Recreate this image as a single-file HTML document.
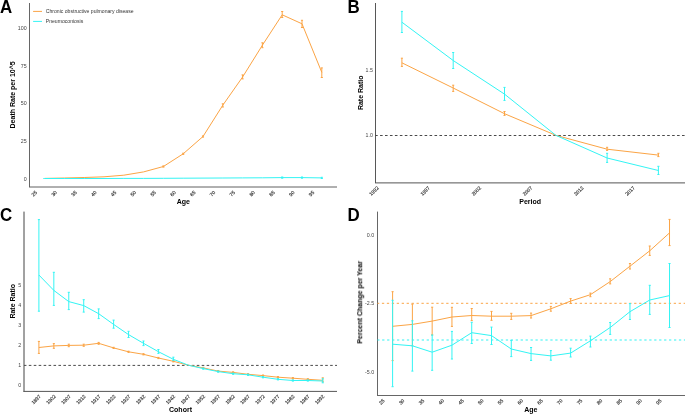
<!DOCTYPE html>
<html><head><meta charset="utf-8"><style>
html,body{margin:0;padding:0;background:#fff;}
svg{display:block;}
text{font-family:"Liberation Sans", sans-serif;}
</style></head><body>
<svg width="685" height="414" viewBox="0 0 685 414">
<defs><filter id="gs" x="0" y="0" width="685" height="414" filterUnits="userSpaceOnUse"><feColorMatrix type="saturate" values="0"/></filter></defs>
<rect width="685" height="414" fill="#fff"/>
<line x1="29.50" y1="3.00" x2="29.50" y2="187.00" stroke="#666666" stroke-width="1" />
<line x1="29.00" y1="187.00" x2="337.00" y2="187.00" stroke="#606060" stroke-width="1" />
<line x1="33.10" y1="11.40" x2="42.00" y2="11.40" stroke="#FBA445" stroke-width="1" />
<line x1="33.10" y1="21.40" x2="42.00" y2="21.40" stroke="#33F4F4" stroke-width="1" />
<polyline points="44.60,178.40 64.40,178.00 84.20,177.50 104.00,176.80 123.80,175.20 143.60,171.90 163.40,166.50 183.20,153.80 203.00,136.50 222.80,105.20 242.60,77.00 262.40,45.20 282.20,14.80 302.00,23.80 321.80,72.40" fill="none" stroke="#FBA445" stroke-width="1.0" stroke-linejoin="round"/>
<line x1="163.40" y1="165.90" x2="163.40" y2="167.10" stroke="#FBA445" stroke-width="1.0" />
<line x1="162.35" y1="165.90" x2="164.45" y2="165.90" stroke="#FBA445" stroke-width="1.0" />
<line x1="162.35" y1="167.10" x2="164.45" y2="167.10" stroke="#FBA445" stroke-width="1.0" />
<line x1="183.20" y1="153.20" x2="183.20" y2="154.40" stroke="#FBA445" stroke-width="1.0" />
<line x1="182.15" y1="153.20" x2="184.25" y2="153.20" stroke="#FBA445" stroke-width="1.0" />
<line x1="182.15" y1="154.40" x2="184.25" y2="154.40" stroke="#FBA445" stroke-width="1.0" />
<line x1="203.00" y1="135.90" x2="203.00" y2="137.10" stroke="#FBA445" stroke-width="1.0" />
<line x1="201.95" y1="135.90" x2="204.05" y2="135.90" stroke="#FBA445" stroke-width="1.0" />
<line x1="201.95" y1="137.10" x2="204.05" y2="137.10" stroke="#FBA445" stroke-width="1.0" />
<line x1="222.80" y1="103.80" x2="222.80" y2="107.00" stroke="#FBA445" stroke-width="1.0" />
<line x1="221.75" y1="103.80" x2="223.85" y2="103.80" stroke="#FBA445" stroke-width="1.0" />
<line x1="221.75" y1="107.00" x2="223.85" y2="107.00" stroke="#FBA445" stroke-width="1.0" />
<line x1="242.60" y1="74.90" x2="242.60" y2="78.90" stroke="#FBA445" stroke-width="1.0" />
<line x1="241.55" y1="74.90" x2="243.65" y2="74.90" stroke="#FBA445" stroke-width="1.0" />
<line x1="241.55" y1="78.90" x2="243.65" y2="78.90" stroke="#FBA445" stroke-width="1.0" />
<line x1="262.40" y1="42.80" x2="262.40" y2="47.70" stroke="#FBA445" stroke-width="1.0" />
<line x1="261.35" y1="42.80" x2="263.45" y2="42.80" stroke="#FBA445" stroke-width="1.0" />
<line x1="261.35" y1="47.70" x2="263.45" y2="47.70" stroke="#FBA445" stroke-width="1.0" />
<line x1="282.20" y1="11.50" x2="282.20" y2="17.50" stroke="#FBA445" stroke-width="1.0" />
<line x1="281.15" y1="11.50" x2="283.25" y2="11.50" stroke="#FBA445" stroke-width="1.0" />
<line x1="281.15" y1="17.50" x2="283.25" y2="17.50" stroke="#FBA445" stroke-width="1.0" />
<line x1="302.00" y1="20.30" x2="302.00" y2="27.50" stroke="#FBA445" stroke-width="1.0" />
<line x1="300.95" y1="20.30" x2="303.05" y2="20.30" stroke="#FBA445" stroke-width="1.0" />
<line x1="300.95" y1="27.50" x2="303.05" y2="27.50" stroke="#FBA445" stroke-width="1.0" />
<line x1="321.80" y1="67.90" x2="321.80" y2="77.50" stroke="#FBA445" stroke-width="1.0" />
<line x1="320.75" y1="67.90" x2="322.85" y2="67.90" stroke="#FBA445" stroke-width="1.0" />
<line x1="320.75" y1="77.50" x2="322.85" y2="77.50" stroke="#FBA445" stroke-width="1.0" />
<polyline points="43.30,178.50 44.60,178.50 64.40,178.50 84.20,178.50 104.00,178.50 123.80,178.40 143.60,178.40 163.40,178.30 183.20,178.20 203.00,178.10 222.80,178.00 242.60,177.90 262.40,177.80 282.20,177.60 302.00,177.60 321.80,177.90" fill="none" stroke="#33F4F4" stroke-width="1.0" stroke-linejoin="round"/>
<line x1="282.20" y1="177.00" x2="282.20" y2="178.20" stroke="#33F4F4" stroke-width="1.0" />
<line x1="281.15" y1="177.00" x2="283.25" y2="177.00" stroke="#33F4F4" stroke-width="1.0" />
<line x1="281.15" y1="178.20" x2="283.25" y2="178.20" stroke="#33F4F4" stroke-width="1.0" />
<line x1="302.00" y1="177.00" x2="302.00" y2="178.20" stroke="#33F4F4" stroke-width="1.0" />
<line x1="300.95" y1="177.00" x2="303.05" y2="177.00" stroke="#33F4F4" stroke-width="1.0" />
<line x1="300.95" y1="178.20" x2="303.05" y2="178.20" stroke="#33F4F4" stroke-width="1.0" />
<line x1="321.80" y1="177.30" x2="321.80" y2="178.50" stroke="#33F4F4" stroke-width="1.0" />
<line x1="320.75" y1="177.30" x2="322.85" y2="177.30" stroke="#33F4F4" stroke-width="1.0" />
<line x1="320.75" y1="178.50" x2="322.85" y2="178.50" stroke="#33F4F4" stroke-width="1.0" />
<line x1="375.50" y1="3.00" x2="375.50" y2="183.00" stroke="#575757" stroke-width="1" />
<line x1="375.00" y1="182.90" x2="685.00" y2="182.90" stroke="#555555" stroke-width="1" />
<line x1="375.10" y1="135.50" x2="685.00" y2="135.50" stroke="#4a4a4a" stroke-width="1" stroke-dasharray="2.6 2.35"/>
<polyline points="401.90,62.80 453.20,88.00 504.50,113.70 555.80,135.30 607.10,149.20 658.40,155.10" fill="none" stroke="#FBA445" stroke-width="1.0" stroke-linejoin="round"/>
<line x1="401.90" y1="58.20" x2="401.90" y2="66.40" stroke="#FBA445" stroke-width="1.0" />
<line x1="400.85" y1="58.20" x2="402.95" y2="58.20" stroke="#FBA445" stroke-width="1.0" />
<line x1="400.85" y1="66.40" x2="402.95" y2="66.40" stroke="#FBA445" stroke-width="1.0" />
<line x1="453.20" y1="85.20" x2="453.20" y2="91.40" stroke="#FBA445" stroke-width="1.0" />
<line x1="452.15" y1="85.20" x2="454.25" y2="85.20" stroke="#FBA445" stroke-width="1.0" />
<line x1="452.15" y1="91.40" x2="454.25" y2="91.40" stroke="#FBA445" stroke-width="1.0" />
<line x1="504.50" y1="111.50" x2="504.50" y2="115.40" stroke="#FBA445" stroke-width="1.0" />
<line x1="503.45" y1="111.50" x2="505.55" y2="111.50" stroke="#FBA445" stroke-width="1.0" />
<line x1="503.45" y1="115.40" x2="505.55" y2="115.40" stroke="#FBA445" stroke-width="1.0" />
<line x1="607.10" y1="147.30" x2="607.10" y2="150.40" stroke="#FBA445" stroke-width="1.0" />
<line x1="606.05" y1="147.30" x2="608.15" y2="147.30" stroke="#FBA445" stroke-width="1.0" />
<line x1="606.05" y1="150.40" x2="608.15" y2="150.40" stroke="#FBA445" stroke-width="1.0" />
<line x1="658.40" y1="153.30" x2="658.40" y2="156.60" stroke="#FBA445" stroke-width="1.0" />
<line x1="657.35" y1="153.30" x2="659.45" y2="153.30" stroke="#FBA445" stroke-width="1.0" />
<line x1="657.35" y1="156.60" x2="659.45" y2="156.60" stroke="#FBA445" stroke-width="1.0" />
<polyline points="401.90,22.20 453.20,60.50 504.50,94.10 555.80,135.30 607.10,158.00 658.40,170.50" fill="none" stroke="#33F4F4" stroke-width="1.0" stroke-linejoin="round"/>
<line x1="401.90" y1="11.40" x2="401.90" y2="32.50" stroke="#33F4F4" stroke-width="1.0" />
<line x1="400.85" y1="11.40" x2="402.95" y2="11.40" stroke="#33F4F4" stroke-width="1.0" />
<line x1="400.85" y1="32.50" x2="402.95" y2="32.50" stroke="#33F4F4" stroke-width="1.0" />
<line x1="453.20" y1="52.50" x2="453.20" y2="68.50" stroke="#33F4F4" stroke-width="1.0" />
<line x1="452.15" y1="52.50" x2="454.25" y2="52.50" stroke="#33F4F4" stroke-width="1.0" />
<line x1="452.15" y1="68.50" x2="454.25" y2="68.50" stroke="#33F4F4" stroke-width="1.0" />
<line x1="504.50" y1="87.40" x2="504.50" y2="100.40" stroke="#33F4F4" stroke-width="1.0" />
<line x1="503.45" y1="87.40" x2="505.55" y2="87.40" stroke="#33F4F4" stroke-width="1.0" />
<line x1="503.45" y1="100.40" x2="505.55" y2="100.40" stroke="#33F4F4" stroke-width="1.0" />
<line x1="607.10" y1="153.30" x2="607.10" y2="162.40" stroke="#33F4F4" stroke-width="1.0" />
<line x1="606.05" y1="153.30" x2="608.15" y2="153.30" stroke="#33F4F4" stroke-width="1.0" />
<line x1="606.05" y1="162.40" x2="608.15" y2="162.40" stroke="#33F4F4" stroke-width="1.0" />
<line x1="658.40" y1="166.30" x2="658.40" y2="174.50" stroke="#33F4F4" stroke-width="1.0" />
<line x1="657.35" y1="166.30" x2="659.45" y2="166.30" stroke="#33F4F4" stroke-width="1.0" />
<line x1="657.35" y1="174.50" x2="659.45" y2="174.50" stroke="#33F4F4" stroke-width="1.0" />
<line x1="24.00" y1="211.60" x2="24.00" y2="391.90" stroke="#444" stroke-width="1" />
<line x1="23.50" y1="391.40" x2="337.00" y2="391.40" stroke="#555" stroke-width="1" />
<line x1="24.00" y1="365.40" x2="337.00" y2="365.40" stroke="#4a4a4a" stroke-width="1" stroke-dasharray="2.6 2.34" stroke-dashoffset="0.15"/>
<polyline points="38.90,347.50 53.84,345.90 68.78,345.40 83.72,345.20 98.66,343.30 113.60,347.90 128.54,351.80 143.48,354.30 158.42,358.00 173.36,361.30 188.30,365.20 203.24,367.90 218.18,371.10 233.12,372.40 248.06,374.30 263.00,375.60 277.94,377.20 292.88,378.20 307.82,379.30 322.76,380.30" fill="none" stroke="#FBA445" stroke-width="1.0" stroke-linejoin="round"/>
<line x1="38.90" y1="341.40" x2="38.90" y2="353.40" stroke="#FBA445" stroke-width="1.0" />
<line x1="37.85" y1="341.40" x2="39.95" y2="341.40" stroke="#FBA445" stroke-width="1.0" />
<line x1="37.85" y1="353.40" x2="39.95" y2="353.40" stroke="#FBA445" stroke-width="1.0" />
<line x1="53.84" y1="343.60" x2="53.84" y2="348.30" stroke="#FBA445" stroke-width="1.0" />
<line x1="52.79" y1="343.60" x2="54.89" y2="343.60" stroke="#FBA445" stroke-width="1.0" />
<line x1="52.79" y1="348.30" x2="54.89" y2="348.30" stroke="#FBA445" stroke-width="1.0" />
<line x1="68.78" y1="344.20" x2="68.78" y2="346.70" stroke="#FBA445" stroke-width="1.0" />
<line x1="67.73" y1="344.20" x2="69.83" y2="344.20" stroke="#FBA445" stroke-width="1.0" />
<line x1="67.73" y1="346.70" x2="69.83" y2="346.70" stroke="#FBA445" stroke-width="1.0" />
<line x1="83.72" y1="344.20" x2="83.72" y2="346.30" stroke="#FBA445" stroke-width="1.0" />
<line x1="82.67" y1="344.20" x2="84.77" y2="344.20" stroke="#FBA445" stroke-width="1.0" />
<line x1="82.67" y1="346.30" x2="84.77" y2="346.30" stroke="#FBA445" stroke-width="1.0" />
<line x1="98.66" y1="342.40" x2="98.66" y2="344.30" stroke="#FBA445" stroke-width="1.0" />
<line x1="97.61" y1="342.40" x2="99.71" y2="342.40" stroke="#FBA445" stroke-width="1.0" />
<line x1="97.61" y1="344.30" x2="99.71" y2="344.30" stroke="#FBA445" stroke-width="1.0" />
<line x1="113.60" y1="347.30" x2="113.60" y2="348.50" stroke="#FBA445" stroke-width="1.0" />
<line x1="112.55" y1="347.30" x2="114.65" y2="347.30" stroke="#FBA445" stroke-width="1.0" />
<line x1="112.55" y1="348.50" x2="114.65" y2="348.50" stroke="#FBA445" stroke-width="1.0" />
<line x1="128.54" y1="351.20" x2="128.54" y2="352.40" stroke="#FBA445" stroke-width="1.0" />
<line x1="127.49" y1="351.20" x2="129.59" y2="351.20" stroke="#FBA445" stroke-width="1.0" />
<line x1="127.49" y1="352.40" x2="129.59" y2="352.40" stroke="#FBA445" stroke-width="1.0" />
<line x1="143.48" y1="353.70" x2="143.48" y2="354.90" stroke="#FBA445" stroke-width="1.0" />
<line x1="142.43" y1="353.70" x2="144.53" y2="353.70" stroke="#FBA445" stroke-width="1.0" />
<line x1="142.43" y1="354.90" x2="144.53" y2="354.90" stroke="#FBA445" stroke-width="1.0" />
<line x1="158.42" y1="357.40" x2="158.42" y2="358.60" stroke="#FBA445" stroke-width="1.0" />
<line x1="157.37" y1="357.40" x2="159.47" y2="357.40" stroke="#FBA445" stroke-width="1.0" />
<line x1="157.37" y1="358.60" x2="159.47" y2="358.60" stroke="#FBA445" stroke-width="1.0" />
<line x1="173.36" y1="360.70" x2="173.36" y2="361.90" stroke="#FBA445" stroke-width="1.0" />
<line x1="172.31" y1="360.70" x2="174.41" y2="360.70" stroke="#FBA445" stroke-width="1.0" />
<line x1="172.31" y1="361.90" x2="174.41" y2="361.90" stroke="#FBA445" stroke-width="1.0" />
<line x1="203.24" y1="367.30" x2="203.24" y2="368.50" stroke="#FBA445" stroke-width="1.0" />
<line x1="202.19" y1="367.30" x2="204.29" y2="367.30" stroke="#FBA445" stroke-width="1.0" />
<line x1="202.19" y1="368.50" x2="204.29" y2="368.50" stroke="#FBA445" stroke-width="1.0" />
<line x1="218.18" y1="370.50" x2="218.18" y2="371.70" stroke="#FBA445" stroke-width="1.0" />
<line x1="217.13" y1="370.50" x2="219.23" y2="370.50" stroke="#FBA445" stroke-width="1.0" />
<line x1="217.13" y1="371.70" x2="219.23" y2="371.70" stroke="#FBA445" stroke-width="1.0" />
<line x1="233.12" y1="371.80" x2="233.12" y2="373.00" stroke="#FBA445" stroke-width="1.0" />
<line x1="232.07" y1="371.80" x2="234.17" y2="371.80" stroke="#FBA445" stroke-width="1.0" />
<line x1="232.07" y1="373.00" x2="234.17" y2="373.00" stroke="#FBA445" stroke-width="1.0" />
<line x1="248.06" y1="373.70" x2="248.06" y2="374.90" stroke="#FBA445" stroke-width="1.0" />
<line x1="247.01" y1="373.70" x2="249.11" y2="373.70" stroke="#FBA445" stroke-width="1.0" />
<line x1="247.01" y1="374.90" x2="249.11" y2="374.90" stroke="#FBA445" stroke-width="1.0" />
<line x1="263.00" y1="375.00" x2="263.00" y2="376.20" stroke="#FBA445" stroke-width="1.0" />
<line x1="261.95" y1="375.00" x2="264.05" y2="375.00" stroke="#FBA445" stroke-width="1.0" />
<line x1="261.95" y1="376.20" x2="264.05" y2="376.20" stroke="#FBA445" stroke-width="1.0" />
<line x1="277.94" y1="376.60" x2="277.94" y2="377.80" stroke="#FBA445" stroke-width="1.0" />
<line x1="276.89" y1="376.60" x2="278.99" y2="376.60" stroke="#FBA445" stroke-width="1.0" />
<line x1="276.89" y1="377.80" x2="278.99" y2="377.80" stroke="#FBA445" stroke-width="1.0" />
<line x1="292.88" y1="377.60" x2="292.88" y2="378.80" stroke="#FBA445" stroke-width="1.0" />
<line x1="291.83" y1="377.60" x2="293.93" y2="377.60" stroke="#FBA445" stroke-width="1.0" />
<line x1="291.83" y1="378.80" x2="293.93" y2="378.80" stroke="#FBA445" stroke-width="1.0" />
<line x1="307.82" y1="378.70" x2="307.82" y2="379.90" stroke="#FBA445" stroke-width="1.0" />
<line x1="306.77" y1="378.70" x2="308.87" y2="378.70" stroke="#FBA445" stroke-width="1.0" />
<line x1="306.77" y1="379.90" x2="308.87" y2="379.90" stroke="#FBA445" stroke-width="1.0" />
<line x1="322.76" y1="377.80" x2="322.76" y2="381.80" stroke="#FBA445" stroke-width="1.0" />
<line x1="321.71" y1="377.80" x2="323.81" y2="377.80" stroke="#FBA445" stroke-width="1.0" />
<line x1="321.71" y1="381.80" x2="323.81" y2="381.80" stroke="#FBA445" stroke-width="1.0" />
<polyline points="38.90,275.00 53.84,290.40 68.78,301.60 83.72,305.60 98.66,313.70 113.60,324.40 128.54,334.60 143.48,343.30 158.42,351.70 173.36,359.30 188.30,365.20 203.24,368.60 218.18,371.60 233.12,373.70 248.06,374.80 263.00,377.20 277.94,379.30 292.88,380.50 307.82,380.50 322.76,381.00" fill="none" stroke="#33F4F4" stroke-width="1.0" stroke-linejoin="round"/>
<line x1="38.90" y1="219.60" x2="38.90" y2="311.20" stroke="#33F4F4" stroke-width="1.0" />
<line x1="37.85" y1="219.60" x2="39.95" y2="219.60" stroke="#33F4F4" stroke-width="1.0" />
<line x1="37.85" y1="311.20" x2="39.95" y2="311.20" stroke="#33F4F4" stroke-width="1.0" />
<line x1="53.84" y1="272.30" x2="53.84" y2="305.40" stroke="#33F4F4" stroke-width="1.0" />
<line x1="52.79" y1="272.30" x2="54.89" y2="272.30" stroke="#33F4F4" stroke-width="1.0" />
<line x1="52.79" y1="305.40" x2="54.89" y2="305.40" stroke="#33F4F4" stroke-width="1.0" />
<line x1="68.78" y1="292.30" x2="68.78" y2="309.60" stroke="#33F4F4" stroke-width="1.0" />
<line x1="67.73" y1="292.30" x2="69.83" y2="292.30" stroke="#33F4F4" stroke-width="1.0" />
<line x1="67.73" y1="309.60" x2="69.83" y2="309.60" stroke="#33F4F4" stroke-width="1.0" />
<line x1="83.72" y1="299.70" x2="83.72" y2="312.10" stroke="#33F4F4" stroke-width="1.0" />
<line x1="82.67" y1="299.70" x2="84.77" y2="299.70" stroke="#33F4F4" stroke-width="1.0" />
<line x1="82.67" y1="312.10" x2="84.77" y2="312.10" stroke="#33F4F4" stroke-width="1.0" />
<line x1="98.66" y1="308.90" x2="98.66" y2="318.60" stroke="#33F4F4" stroke-width="1.0" />
<line x1="97.61" y1="308.90" x2="99.71" y2="308.90" stroke="#33F4F4" stroke-width="1.0" />
<line x1="97.61" y1="318.60" x2="99.71" y2="318.60" stroke="#33F4F4" stroke-width="1.0" />
<line x1="113.60" y1="320.10" x2="113.60" y2="328.20" stroke="#33F4F4" stroke-width="1.0" />
<line x1="112.55" y1="320.10" x2="114.65" y2="320.10" stroke="#33F4F4" stroke-width="1.0" />
<line x1="112.55" y1="328.20" x2="114.65" y2="328.20" stroke="#33F4F4" stroke-width="1.0" />
<line x1="128.54" y1="331.30" x2="128.54" y2="337.50" stroke="#33F4F4" stroke-width="1.0" />
<line x1="127.49" y1="331.30" x2="129.59" y2="331.30" stroke="#33F4F4" stroke-width="1.0" />
<line x1="127.49" y1="337.50" x2="129.59" y2="337.50" stroke="#33F4F4" stroke-width="1.0" />
<line x1="143.48" y1="341.00" x2="143.48" y2="345.60" stroke="#33F4F4" stroke-width="1.0" />
<line x1="142.43" y1="341.00" x2="144.53" y2="341.00" stroke="#33F4F4" stroke-width="1.0" />
<line x1="142.43" y1="345.60" x2="144.53" y2="345.60" stroke="#33F4F4" stroke-width="1.0" />
<line x1="158.42" y1="349.50" x2="158.42" y2="353.40" stroke="#33F4F4" stroke-width="1.0" />
<line x1="157.37" y1="349.50" x2="159.47" y2="349.50" stroke="#33F4F4" stroke-width="1.0" />
<line x1="157.37" y1="353.40" x2="159.47" y2="353.40" stroke="#33F4F4" stroke-width="1.0" />
<line x1="173.36" y1="357.20" x2="173.36" y2="360.30" stroke="#33F4F4" stroke-width="1.0" />
<line x1="172.31" y1="357.20" x2="174.41" y2="357.20" stroke="#33F4F4" stroke-width="1.0" />
<line x1="172.31" y1="360.30" x2="174.41" y2="360.30" stroke="#33F4F4" stroke-width="1.0" />
<line x1="203.24" y1="368.00" x2="203.24" y2="369.20" stroke="#33F4F4" stroke-width="1.0" />
<line x1="202.19" y1="368.00" x2="204.29" y2="368.00" stroke="#33F4F4" stroke-width="1.0" />
<line x1="202.19" y1="369.20" x2="204.29" y2="369.20" stroke="#33F4F4" stroke-width="1.0" />
<line x1="218.18" y1="371.00" x2="218.18" y2="372.20" stroke="#33F4F4" stroke-width="1.0" />
<line x1="217.13" y1="371.00" x2="219.23" y2="371.00" stroke="#33F4F4" stroke-width="1.0" />
<line x1="217.13" y1="372.20" x2="219.23" y2="372.20" stroke="#33F4F4" stroke-width="1.0" />
<line x1="233.12" y1="373.10" x2="233.12" y2="374.30" stroke="#33F4F4" stroke-width="1.0" />
<line x1="232.07" y1="373.10" x2="234.17" y2="373.10" stroke="#33F4F4" stroke-width="1.0" />
<line x1="232.07" y1="374.30" x2="234.17" y2="374.30" stroke="#33F4F4" stroke-width="1.0" />
<line x1="248.06" y1="374.20" x2="248.06" y2="375.40" stroke="#33F4F4" stroke-width="1.0" />
<line x1="247.01" y1="374.20" x2="249.11" y2="374.20" stroke="#33F4F4" stroke-width="1.0" />
<line x1="247.01" y1="375.40" x2="249.11" y2="375.40" stroke="#33F4F4" stroke-width="1.0" />
<line x1="263.00" y1="376.60" x2="263.00" y2="377.80" stroke="#33F4F4" stroke-width="1.0" />
<line x1="261.95" y1="376.60" x2="264.05" y2="376.60" stroke="#33F4F4" stroke-width="1.0" />
<line x1="261.95" y1="377.80" x2="264.05" y2="377.80" stroke="#33F4F4" stroke-width="1.0" />
<line x1="277.94" y1="378.70" x2="277.94" y2="379.90" stroke="#33F4F4" stroke-width="1.0" />
<line x1="276.89" y1="378.70" x2="278.99" y2="378.70" stroke="#33F4F4" stroke-width="1.0" />
<line x1="276.89" y1="379.90" x2="278.99" y2="379.90" stroke="#33F4F4" stroke-width="1.0" />
<line x1="292.88" y1="379.90" x2="292.88" y2="381.10" stroke="#33F4F4" stroke-width="1.0" />
<line x1="291.83" y1="379.90" x2="293.93" y2="379.90" stroke="#33F4F4" stroke-width="1.0" />
<line x1="291.83" y1="381.10" x2="293.93" y2="381.10" stroke="#33F4F4" stroke-width="1.0" />
<line x1="307.82" y1="379.90" x2="307.82" y2="381.10" stroke="#33F4F4" stroke-width="1.0" />
<line x1="306.77" y1="379.90" x2="308.87" y2="379.90" stroke="#33F4F4" stroke-width="1.0" />
<line x1="306.77" y1="381.10" x2="308.87" y2="381.10" stroke="#33F4F4" stroke-width="1.0" />
<line x1="322.76" y1="378.80" x2="322.76" y2="382.80" stroke="#33F4F4" stroke-width="1.0" />
<line x1="321.71" y1="378.80" x2="323.81" y2="378.80" stroke="#33F4F4" stroke-width="1.0" />
<line x1="321.71" y1="382.80" x2="323.81" y2="382.80" stroke="#33F4F4" stroke-width="1.0" />
<line x1="377.50" y1="211.60" x2="377.50" y2="396.00" stroke="#666666" stroke-width="1" />
<line x1="377.00" y1="395.50" x2="685.00" y2="395.50" stroke="#666666" stroke-width="1" />
<line x1="377.50" y1="303.30" x2="685.00" y2="303.30" stroke="#FBA445" stroke-width="1" stroke-dasharray="2.3 2.646" stroke-dashoffset="0.54"/>
<line x1="377.50" y1="340.00" x2="685.00" y2="340.00" stroke="#33F4F4" stroke-width="1.1" stroke-dasharray="2.3 2.646" stroke-dashoffset="0.3"/>
<polyline points="392.60,326.30 412.38,324.40 432.16,321.10 451.94,317.00 471.72,315.50 491.50,316.20 511.28,316.20 531.06,315.60 550.84,308.80 570.62,301.10 590.40,294.70 610.18,281.60 629.96,266.20 649.74,250.80 669.52,232.90" fill="none" stroke="#FBA445" stroke-width="1.0" stroke-linejoin="round"/>
<line x1="392.60" y1="291.70" x2="392.60" y2="360.60" stroke="#FBA445" stroke-width="1.0" />
<line x1="391.55" y1="291.70" x2="393.65" y2="291.70" stroke="#FBA445" stroke-width="1.0" />
<line x1="391.55" y1="360.60" x2="393.65" y2="360.60" stroke="#FBA445" stroke-width="1.0" />
<line x1="412.38" y1="304.20" x2="412.38" y2="345.80" stroke="#FBA445" stroke-width="1.0" />
<line x1="411.33" y1="304.20" x2="413.43" y2="304.20" stroke="#FBA445" stroke-width="1.0" />
<line x1="411.33" y1="345.80" x2="413.43" y2="345.80" stroke="#FBA445" stroke-width="1.0" />
<line x1="432.16" y1="307.20" x2="432.16" y2="335.00" stroke="#FBA445" stroke-width="1.0" />
<line x1="431.11" y1="307.20" x2="433.21" y2="307.20" stroke="#FBA445" stroke-width="1.0" />
<line x1="431.11" y1="335.00" x2="433.21" y2="335.00" stroke="#FBA445" stroke-width="1.0" />
<line x1="451.94" y1="307.30" x2="451.94" y2="326.40" stroke="#FBA445" stroke-width="1.0" />
<line x1="450.89" y1="307.30" x2="452.99" y2="307.30" stroke="#FBA445" stroke-width="1.0" />
<line x1="450.89" y1="326.40" x2="452.99" y2="326.40" stroke="#FBA445" stroke-width="1.0" />
<line x1="471.72" y1="308.50" x2="471.72" y2="320.60" stroke="#FBA445" stroke-width="1.0" />
<line x1="470.67" y1="308.50" x2="472.77" y2="308.50" stroke="#FBA445" stroke-width="1.0" />
<line x1="470.67" y1="320.60" x2="472.77" y2="320.60" stroke="#FBA445" stroke-width="1.0" />
<line x1="491.50" y1="311.40" x2="491.50" y2="320.30" stroke="#FBA445" stroke-width="1.0" />
<line x1="490.45" y1="311.40" x2="492.55" y2="311.40" stroke="#FBA445" stroke-width="1.0" />
<line x1="490.45" y1="320.30" x2="492.55" y2="320.30" stroke="#FBA445" stroke-width="1.0" />
<line x1="511.28" y1="313.30" x2="511.28" y2="319.40" stroke="#FBA445" stroke-width="1.0" />
<line x1="510.23" y1="313.30" x2="512.33" y2="313.30" stroke="#FBA445" stroke-width="1.0" />
<line x1="510.23" y1="319.40" x2="512.33" y2="319.40" stroke="#FBA445" stroke-width="1.0" />
<line x1="531.06" y1="313.10" x2="531.06" y2="318.00" stroke="#FBA445" stroke-width="1.0" />
<line x1="530.01" y1="313.10" x2="532.11" y2="313.10" stroke="#FBA445" stroke-width="1.0" />
<line x1="530.01" y1="318.00" x2="532.11" y2="318.00" stroke="#FBA445" stroke-width="1.0" />
<line x1="550.84" y1="306.40" x2="550.84" y2="311.20" stroke="#FBA445" stroke-width="1.0" />
<line x1="549.79" y1="306.40" x2="551.89" y2="306.40" stroke="#FBA445" stroke-width="1.0" />
<line x1="549.79" y1="311.20" x2="551.89" y2="311.20" stroke="#FBA445" stroke-width="1.0" />
<line x1="570.62" y1="298.60" x2="570.62" y2="303.50" stroke="#FBA445" stroke-width="1.0" />
<line x1="569.57" y1="298.60" x2="571.67" y2="298.60" stroke="#FBA445" stroke-width="1.0" />
<line x1="569.57" y1="303.50" x2="571.67" y2="303.50" stroke="#FBA445" stroke-width="1.0" />
<line x1="590.40" y1="293.10" x2="590.40" y2="296.70" stroke="#FBA445" stroke-width="1.0" />
<line x1="589.35" y1="293.10" x2="591.45" y2="293.10" stroke="#FBA445" stroke-width="1.0" />
<line x1="589.35" y1="296.70" x2="591.45" y2="296.70" stroke="#FBA445" stroke-width="1.0" />
<line x1="610.18" y1="278.80" x2="610.18" y2="283.90" stroke="#FBA445" stroke-width="1.0" />
<line x1="609.13" y1="278.80" x2="611.23" y2="278.80" stroke="#FBA445" stroke-width="1.0" />
<line x1="609.13" y1="283.90" x2="611.23" y2="283.90" stroke="#FBA445" stroke-width="1.0" />
<line x1="629.96" y1="263.50" x2="629.96" y2="269.00" stroke="#FBA445" stroke-width="1.0" />
<line x1="628.91" y1="263.50" x2="631.01" y2="263.50" stroke="#FBA445" stroke-width="1.0" />
<line x1="628.91" y1="269.00" x2="631.01" y2="269.00" stroke="#FBA445" stroke-width="1.0" />
<line x1="649.74" y1="246.00" x2="649.74" y2="255.40" stroke="#FBA445" stroke-width="1.0" />
<line x1="648.69" y1="246.00" x2="650.79" y2="246.00" stroke="#FBA445" stroke-width="1.0" />
<line x1="648.69" y1="255.40" x2="650.79" y2="255.40" stroke="#FBA445" stroke-width="1.0" />
<line x1="669.52" y1="219.40" x2="669.52" y2="245.60" stroke="#FBA445" stroke-width="1.0" />
<line x1="668.47" y1="219.40" x2="670.57" y2="219.40" stroke="#FBA445" stroke-width="1.0" />
<line x1="668.47" y1="245.60" x2="670.57" y2="245.60" stroke="#FBA445" stroke-width="1.0" />
<polyline points="392.60,344.20 412.38,345.80 432.16,352.20 451.94,345.20 471.72,332.70 491.50,335.60 511.28,349.00 531.06,353.60 550.84,355.90 570.62,353.10 590.40,340.80 610.18,327.50 629.96,311.70 649.74,300.00 669.52,295.60" fill="none" stroke="#33F4F4" stroke-width="1.0" stroke-linejoin="round"/>
<line x1="392.60" y1="300.30" x2="392.60" y2="386.70" stroke="#33F4F4" stroke-width="1.0" />
<line x1="391.55" y1="300.30" x2="393.65" y2="300.30" stroke="#33F4F4" stroke-width="1.0" />
<line x1="391.55" y1="386.70" x2="393.65" y2="386.70" stroke="#33F4F4" stroke-width="1.0" />
<line x1="412.38" y1="320.80" x2="412.38" y2="371.10" stroke="#33F4F4" stroke-width="1.0" />
<line x1="411.33" y1="320.80" x2="413.43" y2="320.80" stroke="#33F4F4" stroke-width="1.0" />
<line x1="411.33" y1="371.10" x2="413.43" y2="371.10" stroke="#33F4F4" stroke-width="1.0" />
<line x1="432.16" y1="335.00" x2="432.16" y2="370.30" stroke="#33F4F4" stroke-width="1.0" />
<line x1="431.11" y1="335.00" x2="433.21" y2="335.00" stroke="#33F4F4" stroke-width="1.0" />
<line x1="431.11" y1="370.30" x2="433.21" y2="370.30" stroke="#33F4F4" stroke-width="1.0" />
<line x1="451.94" y1="331.40" x2="451.94" y2="359.00" stroke="#33F4F4" stroke-width="1.0" />
<line x1="450.89" y1="331.40" x2="452.99" y2="331.40" stroke="#33F4F4" stroke-width="1.0" />
<line x1="450.89" y1="359.00" x2="452.99" y2="359.00" stroke="#33F4F4" stroke-width="1.0" />
<line x1="471.72" y1="322.30" x2="471.72" y2="343.50" stroke="#33F4F4" stroke-width="1.0" />
<line x1="470.67" y1="322.30" x2="472.77" y2="322.30" stroke="#33F4F4" stroke-width="1.0" />
<line x1="470.67" y1="343.50" x2="472.77" y2="343.50" stroke="#33F4F4" stroke-width="1.0" />
<line x1="491.50" y1="327.10" x2="491.50" y2="344.50" stroke="#33F4F4" stroke-width="1.0" />
<line x1="490.45" y1="327.10" x2="492.55" y2="327.10" stroke="#33F4F4" stroke-width="1.0" />
<line x1="490.45" y1="344.50" x2="492.55" y2="344.50" stroke="#33F4F4" stroke-width="1.0" />
<line x1="511.28" y1="340.40" x2="511.28" y2="356.60" stroke="#33F4F4" stroke-width="1.0" />
<line x1="510.23" y1="340.40" x2="512.33" y2="340.40" stroke="#33F4F4" stroke-width="1.0" />
<line x1="510.23" y1="356.60" x2="512.33" y2="356.60" stroke="#33F4F4" stroke-width="1.0" />
<line x1="531.06" y1="347.50" x2="531.06" y2="360.40" stroke="#33F4F4" stroke-width="1.0" />
<line x1="530.01" y1="347.50" x2="532.11" y2="347.50" stroke="#33F4F4" stroke-width="1.0" />
<line x1="530.01" y1="360.40" x2="532.11" y2="360.40" stroke="#33F4F4" stroke-width="1.0" />
<line x1="550.84" y1="350.60" x2="550.84" y2="360.20" stroke="#33F4F4" stroke-width="1.0" />
<line x1="549.79" y1="350.60" x2="551.89" y2="350.60" stroke="#33F4F4" stroke-width="1.0" />
<line x1="549.79" y1="360.20" x2="551.89" y2="360.20" stroke="#33F4F4" stroke-width="1.0" />
<line x1="570.62" y1="348.20" x2="570.62" y2="357.00" stroke="#33F4F4" stroke-width="1.0" />
<line x1="569.57" y1="348.20" x2="571.67" y2="348.20" stroke="#33F4F4" stroke-width="1.0" />
<line x1="569.57" y1="357.00" x2="571.67" y2="357.00" stroke="#33F4F4" stroke-width="1.0" />
<line x1="590.40" y1="336.10" x2="590.40" y2="347.00" stroke="#33F4F4" stroke-width="1.0" />
<line x1="589.35" y1="336.10" x2="591.45" y2="336.10" stroke="#33F4F4" stroke-width="1.0" />
<line x1="589.35" y1="347.00" x2="591.45" y2="347.00" stroke="#33F4F4" stroke-width="1.0" />
<line x1="610.18" y1="322.50" x2="610.18" y2="334.40" stroke="#33F4F4" stroke-width="1.0" />
<line x1="609.13" y1="322.50" x2="611.23" y2="322.50" stroke="#33F4F4" stroke-width="1.0" />
<line x1="609.13" y1="334.40" x2="611.23" y2="334.40" stroke="#33F4F4" stroke-width="1.0" />
<line x1="629.96" y1="303.60" x2="629.96" y2="319.50" stroke="#33F4F4" stroke-width="1.0" />
<line x1="628.91" y1="303.60" x2="631.01" y2="303.60" stroke="#33F4F4" stroke-width="1.0" />
<line x1="628.91" y1="319.50" x2="631.01" y2="319.50" stroke="#33F4F4" stroke-width="1.0" />
<line x1="649.74" y1="285.30" x2="649.74" y2="314.40" stroke="#33F4F4" stroke-width="1.0" />
<line x1="648.69" y1="285.30" x2="650.79" y2="285.30" stroke="#33F4F4" stroke-width="1.0" />
<line x1="648.69" y1="314.40" x2="650.79" y2="314.40" stroke="#33F4F4" stroke-width="1.0" />
<line x1="669.52" y1="263.50" x2="669.52" y2="327.50" stroke="#33F4F4" stroke-width="1.0" />
<line x1="668.47" y1="263.50" x2="670.57" y2="263.50" stroke="#33F4F4" stroke-width="1.0" />
<line x1="668.47" y1="327.50" x2="670.57" y2="327.50" stroke="#33F4F4" stroke-width="1.0" />
<g filter="url(#gs)">
<text transform="translate(0.00 12.50) scale(0.96 1)" x="0" y="0" font-size="17.6" font-weight="bold" fill="#000">A</text>
<text transform="translate(26.60 180.50) scale(1.0 1)" x="0" y="0" font-size="5.3" text-anchor="end" font-weight="normal" fill="#444" >0</text>
<text transform="translate(26.60 142.90) scale(1.0 1)" x="0" y="0" font-size="5.3" text-anchor="end" font-weight="normal" fill="#444" >25</text>
<text transform="translate(26.60 105.30) scale(1.0 1)" x="0" y="0" font-size="5.3" text-anchor="end" font-weight="normal" fill="#444" >50</text>
<text transform="translate(26.60 67.70) scale(1.0 1)" x="0" y="0" font-size="5.3" text-anchor="end" font-weight="normal" fill="#444" >75</text>
<text transform="translate(26.60 30.10) scale(1.0 1)" x="0" y="0" font-size="5.3" text-anchor="end" font-weight="normal" fill="#444" >100</text>
<text transform="translate(34.30 193.40) scale(1.0 1) rotate(-45)" x="0" y="0" dy="1.79" font-size="5.0" text-anchor="middle" font-weight="normal" fill="#333333" stroke="#333" stroke-width="0.15">25</text>
<text transform="translate(54.10 193.40) scale(1.0 1) rotate(-45)" x="0" y="0" dy="1.79" font-size="5.0" text-anchor="middle" font-weight="normal" fill="#333333" stroke="#333" stroke-width="0.15">30</text>
<text transform="translate(73.90 193.40) scale(1.0 1) rotate(-45)" x="0" y="0" dy="1.79" font-size="5.0" text-anchor="middle" font-weight="normal" fill="#333333" stroke="#333" stroke-width="0.15">35</text>
<text transform="translate(93.70 193.40) scale(1.0 1) rotate(-45)" x="0" y="0" dy="1.79" font-size="5.0" text-anchor="middle" font-weight="normal" fill="#333333" stroke="#333" stroke-width="0.15">40</text>
<text transform="translate(113.50 193.40) scale(1.0 1) rotate(-45)" x="0" y="0" dy="1.79" font-size="5.0" text-anchor="middle" font-weight="normal" fill="#333333" stroke="#333" stroke-width="0.15">45</text>
<text transform="translate(133.30 193.40) scale(1.0 1) rotate(-45)" x="0" y="0" dy="1.79" font-size="5.0" text-anchor="middle" font-weight="normal" fill="#333333" stroke="#333" stroke-width="0.15">50</text>
<text transform="translate(153.10 193.40) scale(1.0 1) rotate(-45)" x="0" y="0" dy="1.79" font-size="5.0" text-anchor="middle" font-weight="normal" fill="#333333" stroke="#333" stroke-width="0.15">55</text>
<text transform="translate(172.90 193.40) scale(1.0 1) rotate(-45)" x="0" y="0" dy="1.79" font-size="5.0" text-anchor="middle" font-weight="normal" fill="#333333" stroke="#333" stroke-width="0.15">60</text>
<text transform="translate(192.70 193.40) scale(1.0 1) rotate(-45)" x="0" y="0" dy="1.79" font-size="5.0" text-anchor="middle" font-weight="normal" fill="#333333" stroke="#333" stroke-width="0.15">65</text>
<text transform="translate(212.50 193.40) scale(1.0 1) rotate(-45)" x="0" y="0" dy="1.79" font-size="5.0" text-anchor="middle" font-weight="normal" fill="#333333" stroke="#333" stroke-width="0.15">70</text>
<text transform="translate(232.30 193.40) scale(1.0 1) rotate(-45)" x="0" y="0" dy="1.79" font-size="5.0" text-anchor="middle" font-weight="normal" fill="#333333" stroke="#333" stroke-width="0.15">75</text>
<text transform="translate(252.10 193.40) scale(1.0 1) rotate(-45)" x="0" y="0" dy="1.79" font-size="5.0" text-anchor="middle" font-weight="normal" fill="#333333" stroke="#333" stroke-width="0.15">80</text>
<text transform="translate(271.90 193.40) scale(1.0 1) rotate(-45)" x="0" y="0" dy="1.79" font-size="5.0" text-anchor="middle" font-weight="normal" fill="#333333" stroke="#333" stroke-width="0.15">85</text>
<text transform="translate(291.70 193.40) scale(1.0 1) rotate(-45)" x="0" y="0" dy="1.79" font-size="5.0" text-anchor="middle" font-weight="normal" fill="#333333" stroke="#333" stroke-width="0.15">90</text>
<text transform="translate(311.50 193.40) scale(1.0 1) rotate(-45)" x="0" y="0" dy="1.79" font-size="5.0" text-anchor="middle" font-weight="normal" fill="#333333" stroke="#333" stroke-width="0.15">95</text>
<text transform="translate(183.40 203.60) scale(1.0 1)" x="0" y="0" font-size="7.0" text-anchor="middle" font-weight="bold" fill="#000" >Age</text>
<text transform="translate(14.70 94.90) scale(1.0 1) rotate(-90)" x="0" y="0" font-size="7.0" text-anchor="middle" font-weight="bold" fill="#000" >Death Rate per 10^5</text>
<text transform="translate(45.80 13.23) scale(1.0 1)" x="0" y="0" font-size="5.1" text-anchor="start" font-weight="normal" fill="#333" >Chronic obstructive pulmonary disease</text>
<text transform="translate(45.80 23.23) scale(1.0 1)" x="0" y="0" font-size="5.1" text-anchor="start" font-weight="normal" fill="#333" >Pneumoconiosis</text>
<text transform="translate(347.40 12.50) scale(0.96 1)" x="0" y="0" font-size="17.6" font-weight="bold" fill="#000">B</text>
<text transform="translate(372.90 137.40) scale(1.0 1)" x="0" y="0" font-size="5.3" text-anchor="end" font-weight="normal" fill="#444" >1.0</text>
<text transform="translate(372.90 72.00) scale(1.0 1)" x="0" y="0" font-size="5.3" text-anchor="end" font-weight="normal" fill="#444" >1.5</text>
<text transform="translate(373.90 190.90) scale(1.0 1) rotate(-45)" x="0" y="0" dy="1.79" font-size="5.0" text-anchor="middle" font-weight="normal" fill="#333333" stroke="#333" stroke-width="0.15">1992</text>
<text transform="translate(425.10 190.90) scale(1.0 1) rotate(-45)" x="0" y="0" dy="1.79" font-size="5.0" text-anchor="middle" font-weight="normal" fill="#333333" stroke="#333" stroke-width="0.15">1997</text>
<text transform="translate(476.30 190.90) scale(1.0 1) rotate(-45)" x="0" y="0" dy="1.79" font-size="5.0" text-anchor="middle" font-weight="normal" fill="#333333" stroke="#333" stroke-width="0.15">2002</text>
<text transform="translate(527.50 190.90) scale(1.0 1) rotate(-45)" x="0" y="0" dy="1.79" font-size="5.0" text-anchor="middle" font-weight="normal" fill="#333333" stroke="#333" stroke-width="0.15">2007</text>
<text transform="translate(578.70 190.90) scale(1.0 1) rotate(-45)" x="0" y="0" dy="1.79" font-size="5.0" text-anchor="middle" font-weight="normal" fill="#333333" stroke="#333" stroke-width="0.15">2012</text>
<text transform="translate(629.90 190.90) scale(1.0 1) rotate(-45)" x="0" y="0" dy="1.79" font-size="5.0" text-anchor="middle" font-weight="normal" fill="#333333" stroke="#333" stroke-width="0.15">2017</text>
<text transform="translate(530.20 203.60) scale(1.0 1)" x="0" y="0" font-size="7.0" text-anchor="middle" font-weight="bold" fill="#000" >Period</text>
<text transform="translate(362.50 92.80) scale(1.0 1) rotate(-90)" x="0" y="0" font-size="7.0" text-anchor="middle" font-weight="bold" fill="#000" >Rate Ratio</text>
<text transform="translate(0.10 220.60) scale(0.96 1)" x="0" y="0" font-size="17.6" font-weight="bold" fill="#000">C</text>
<text transform="translate(21.20 387.20) scale(1.0 1)" x="0" y="0" font-size="5.3" text-anchor="end" font-weight="normal" fill="#444" >0</text>
<text transform="translate(21.20 367.20) scale(1.0 1)" x="0" y="0" font-size="5.3" text-anchor="end" font-weight="normal" fill="#444" >1</text>
<text transform="translate(21.20 347.20) scale(1.0 1)" x="0" y="0" font-size="5.3" text-anchor="end" font-weight="normal" fill="#444" >2</text>
<text transform="translate(21.20 327.20) scale(1.0 1)" x="0" y="0" font-size="5.3" text-anchor="end" font-weight="normal" fill="#444" >3</text>
<text transform="translate(21.20 307.20) scale(1.0 1)" x="0" y="0" font-size="5.3" text-anchor="end" font-weight="normal" fill="#444" >4</text>
<text transform="translate(21.20 287.20) scale(1.0 1)" x="0" y="0" font-size="5.3" text-anchor="end" font-weight="normal" fill="#444" >5</text>
<text transform="translate(36.10 399.40) scale(1.0 1) rotate(-45)" x="0" y="0" dy="1.79" font-size="5.0" text-anchor="middle" font-weight="normal" fill="#333333" stroke="#333" stroke-width="0.15">1897</text>
<text transform="translate(51.02 399.40) scale(1.0 1) rotate(-45)" x="0" y="0" dy="1.79" font-size="5.0" text-anchor="middle" font-weight="normal" fill="#333333" stroke="#333" stroke-width="0.15">1902</text>
<text transform="translate(65.94 399.40) scale(1.0 1) rotate(-45)" x="0" y="0" dy="1.79" font-size="5.0" text-anchor="middle" font-weight="normal" fill="#333333" stroke="#333" stroke-width="0.15">1907</text>
<text transform="translate(80.86 399.40) scale(1.0 1) rotate(-45)" x="0" y="0" dy="1.79" font-size="5.0" text-anchor="middle" font-weight="normal" fill="#333333" stroke="#333" stroke-width="0.15">1912</text>
<text transform="translate(95.78 399.40) scale(1.0 1) rotate(-45)" x="0" y="0" dy="1.79" font-size="5.0" text-anchor="middle" font-weight="normal" fill="#333333" stroke="#333" stroke-width="0.15">1917</text>
<text transform="translate(110.70 399.40) scale(1.0 1) rotate(-45)" x="0" y="0" dy="1.79" font-size="5.0" text-anchor="middle" font-weight="normal" fill="#333333" stroke="#333" stroke-width="0.15">1922</text>
<text transform="translate(125.62 399.40) scale(1.0 1) rotate(-45)" x="0" y="0" dy="1.79" font-size="5.0" text-anchor="middle" font-weight="normal" fill="#333333" stroke="#333" stroke-width="0.15">1927</text>
<text transform="translate(140.54 399.40) scale(1.0 1) rotate(-45)" x="0" y="0" dy="1.79" font-size="5.0" text-anchor="middle" font-weight="normal" fill="#333333" stroke="#333" stroke-width="0.15">1932</text>
<text transform="translate(155.46 399.40) scale(1.0 1) rotate(-45)" x="0" y="0" dy="1.79" font-size="5.0" text-anchor="middle" font-weight="normal" fill="#333333" stroke="#333" stroke-width="0.15">1937</text>
<text transform="translate(170.38 399.40) scale(1.0 1) rotate(-45)" x="0" y="0" dy="1.79" font-size="5.0" text-anchor="middle" font-weight="normal" fill="#333333" stroke="#333" stroke-width="0.15">1942</text>
<text transform="translate(185.30 399.40) scale(1.0 1) rotate(-45)" x="0" y="0" dy="1.79" font-size="5.0" text-anchor="middle" font-weight="normal" fill="#333333" stroke="#333" stroke-width="0.15">1947</text>
<text transform="translate(200.22 399.40) scale(1.0 1) rotate(-45)" x="0" y="0" dy="1.79" font-size="5.0" text-anchor="middle" font-weight="normal" fill="#333333" stroke="#333" stroke-width="0.15">1952</text>
<text transform="translate(215.14 399.40) scale(1.0 1) rotate(-45)" x="0" y="0" dy="1.79" font-size="5.0" text-anchor="middle" font-weight="normal" fill="#333333" stroke="#333" stroke-width="0.15">1957</text>
<text transform="translate(230.06 399.40) scale(1.0 1) rotate(-45)" x="0" y="0" dy="1.79" font-size="5.0" text-anchor="middle" font-weight="normal" fill="#333333" stroke="#333" stroke-width="0.15">1962</text>
<text transform="translate(244.98 399.40) scale(1.0 1) rotate(-45)" x="0" y="0" dy="1.79" font-size="5.0" text-anchor="middle" font-weight="normal" fill="#333333" stroke="#333" stroke-width="0.15">1967</text>
<text transform="translate(259.90 399.40) scale(1.0 1) rotate(-45)" x="0" y="0" dy="1.79" font-size="5.0" text-anchor="middle" font-weight="normal" fill="#333333" stroke="#333" stroke-width="0.15">1972</text>
<text transform="translate(274.82 399.40) scale(1.0 1) rotate(-45)" x="0" y="0" dy="1.79" font-size="5.0" text-anchor="middle" font-weight="normal" fill="#333333" stroke="#333" stroke-width="0.15">1977</text>
<text transform="translate(289.74 399.40) scale(1.0 1) rotate(-45)" x="0" y="0" dy="1.79" font-size="5.0" text-anchor="middle" font-weight="normal" fill="#333333" stroke="#333" stroke-width="0.15">1982</text>
<text transform="translate(304.66 399.40) scale(1.0 1) rotate(-45)" x="0" y="0" dy="1.79" font-size="5.0" text-anchor="middle" font-weight="normal" fill="#333333" stroke="#333" stroke-width="0.15">1987</text>
<text transform="translate(319.58 399.40) scale(1.0 1) rotate(-45)" x="0" y="0" dy="1.79" font-size="5.0" text-anchor="middle" font-weight="normal" fill="#333333" stroke="#333" stroke-width="0.15">1992</text>
<text transform="translate(180.50 412.10) scale(1.0 1)" x="0" y="0" font-size="7.0" text-anchor="middle" font-weight="bold" fill="#000" >Cohort</text>
<text transform="translate(15.30 301.30) scale(1.0 1) rotate(-90)" x="0" y="0" font-size="7.0" text-anchor="middle" font-weight="bold" fill="#000" >Rate Ratio</text>
<text transform="translate(347.60 220.60) scale(0.96 1)" x="0" y="0" font-size="17.6" font-weight="bold" fill="#000">D</text>
<text transform="translate(374.20 237.00) scale(1.0 1)" x="0" y="0" font-size="5.3" text-anchor="end" font-weight="normal" fill="#444" >0.0</text>
<text transform="translate(374.20 305.30) scale(1.0 1)" x="0" y="0" font-size="5.3" text-anchor="end" font-weight="normal" fill="#444" >-2.5</text>
<text transform="translate(374.20 373.60) scale(1.0 1)" x="0" y="0" font-size="5.3" text-anchor="end" font-weight="normal" fill="#444" >-5.0</text>
<text transform="translate(381.80 401.80) scale(1.0 1) rotate(-45)" x="0" y="0" dy="1.79" font-size="5.0" text-anchor="middle" font-weight="normal" fill="#333333" stroke="#333" stroke-width="0.15">25</text>
<text transform="translate(401.58 401.80) scale(1.0 1) rotate(-45)" x="0" y="0" dy="1.79" font-size="5.0" text-anchor="middle" font-weight="normal" fill="#333333" stroke="#333" stroke-width="0.15">30</text>
<text transform="translate(421.36 401.80) scale(1.0 1) rotate(-45)" x="0" y="0" dy="1.79" font-size="5.0" text-anchor="middle" font-weight="normal" fill="#333333" stroke="#333" stroke-width="0.15">35</text>
<text transform="translate(441.14 401.80) scale(1.0 1) rotate(-45)" x="0" y="0" dy="1.79" font-size="5.0" text-anchor="middle" font-weight="normal" fill="#333333" stroke="#333" stroke-width="0.15">40</text>
<text transform="translate(460.92 401.80) scale(1.0 1) rotate(-45)" x="0" y="0" dy="1.79" font-size="5.0" text-anchor="middle" font-weight="normal" fill="#333333" stroke="#333" stroke-width="0.15">45</text>
<text transform="translate(480.70 401.80) scale(1.0 1) rotate(-45)" x="0" y="0" dy="1.79" font-size="5.0" text-anchor="middle" font-weight="normal" fill="#333333" stroke="#333" stroke-width="0.15">50</text>
<text transform="translate(500.48 401.80) scale(1.0 1) rotate(-45)" x="0" y="0" dy="1.79" font-size="5.0" text-anchor="middle" font-weight="normal" fill="#333333" stroke="#333" stroke-width="0.15">55</text>
<text transform="translate(520.26 401.80) scale(1.0 1) rotate(-45)" x="0" y="0" dy="1.79" font-size="5.0" text-anchor="middle" font-weight="normal" fill="#333333" stroke="#333" stroke-width="0.15">60</text>
<text transform="translate(540.04 401.80) scale(1.0 1) rotate(-45)" x="0" y="0" dy="1.79" font-size="5.0" text-anchor="middle" font-weight="normal" fill="#333333" stroke="#333" stroke-width="0.15">65</text>
<text transform="translate(559.82 401.80) scale(1.0 1) rotate(-45)" x="0" y="0" dy="1.79" font-size="5.0" text-anchor="middle" font-weight="normal" fill="#333333" stroke="#333" stroke-width="0.15">70</text>
<text transform="translate(579.60 401.80) scale(1.0 1) rotate(-45)" x="0" y="0" dy="1.79" font-size="5.0" text-anchor="middle" font-weight="normal" fill="#333333" stroke="#333" stroke-width="0.15">75</text>
<text transform="translate(599.38 401.80) scale(1.0 1) rotate(-45)" x="0" y="0" dy="1.79" font-size="5.0" text-anchor="middle" font-weight="normal" fill="#333333" stroke="#333" stroke-width="0.15">80</text>
<text transform="translate(619.16 401.80) scale(1.0 1) rotate(-45)" x="0" y="0" dy="1.79" font-size="5.0" text-anchor="middle" font-weight="normal" fill="#333333" stroke="#333" stroke-width="0.15">85</text>
<text transform="translate(638.94 401.80) scale(1.0 1) rotate(-45)" x="0" y="0" dy="1.79" font-size="5.0" text-anchor="middle" font-weight="normal" fill="#333333" stroke="#333" stroke-width="0.15">90</text>
<text transform="translate(658.72 401.80) scale(1.0 1) rotate(-45)" x="0" y="0" dy="1.79" font-size="5.0" text-anchor="middle" font-weight="normal" fill="#333333" stroke="#333" stroke-width="0.15">95</text>
<text transform="translate(530.90 412.10) scale(1.0 1)" x="0" y="0" font-size="7.0" text-anchor="middle" font-weight="bold" fill="#000" >Age</text>
<text transform="translate(362.20 302.40) scale(1.0 1) rotate(-90)" x="0" y="0" font-size="7.0" text-anchor="middle" font-weight="bold" fill="#000" >Percent Change per Year</text>
</g>
</svg>
</body></html>
